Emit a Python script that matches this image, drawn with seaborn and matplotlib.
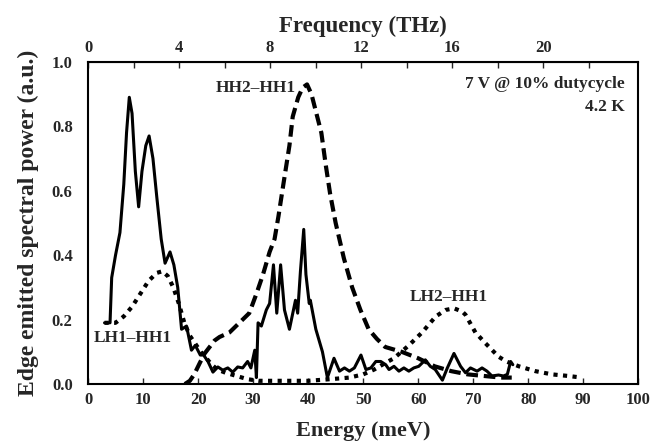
import numpy as np
import pandas as pd
import matplotlib
matplotlib.use("Agg")
import matplotlib.pyplot as plt
import seaborn as sns

# 实测谱（实线）
e_meas = [3.0, 4.0, 4.3, 5.0, 5.8, 6.5, 7.0, 7.5, 8.0, 8.6, 9.2, 9.8, 10.5, 11.1, 11.8,
          12.5, 13.3, 14.0, 14.9, 15.6, 16.3, 17.0, 17.9, 18.8, 19.5, 20.4, 21.0, 21.8,
          22.7, 23.6, 24.5, 25.4, 26.3, 27.2, 28.1, 29.0, 29.6, 30.3, 30.6, 30.9, 31.5,
          32.4, 33.0, 33.7, 34.3, 35.0, 35.7, 36.6, 37.7, 38.1, 38.6, 39.2, 39.6, 40.2,
          40.4, 41.4, 42.6, 43.5, 44.7, 45.7, 46.6, 47.5, 48.4, 49.6, 50.5, 51.4, 52.3,
          53.2, 54.1, 54.7, 55.6, 56.5, 57.4, 58.3, 59.2, 60.1, 61.3, 62.2, 63.1, 64.4,
          65.3, 66.5, 67.7, 68.6, 69.5, 70.7, 71.6, 72.5, 73.4, 74.6, 75.5, 76.2, 76.8, 77.2]
p_meas = [0.19, 0.19, 0.33, 0.40, 0.47, 0.62, 0.78, 0.89, 0.84, 0.66, 0.55, 0.66, 0.74, 0.77, 0.70,
          0.58, 0.45, 0.375, 0.41, 0.37, 0.30, 0.17, 0.18, 0.105, 0.12, 0.09, 0.09, 0.07,
          0.037, 0.053, 0.043, 0.05, 0.037, 0.053, 0.05, 0.07, 0.05, 0.105, 0.02, 0.19, 0.18,
          0.23, 0.25, 0.37, 0.22, 0.37, 0.23, 0.17, 0.26, 0.22, 0.35, 0.48, 0.34, 0.25,
          0.26, 0.17, 0.10, 0.02, 0.08, 0.04, 0.05, 0.04, 0.05, 0.09, 0.045, 0.05, 0.07,
          0.07, 0.06, 0.045, 0.055, 0.04, 0.05, 0.04, 0.05, 0.055, 0.075, 0.055, 0.045, 0.012,
          0.05, 0.095, 0.055, 0.035, 0.05, 0.04, 0.05, 0.04, 0.025, 0.028, 0.025, 0.03, 0.07, 0.06]

# HH2-HH1 计算（虚线）
e_hh = [17.6, 18.5, 19.3, 20.3, 21.2, 22.1, 23.0, 23.9, 25.7, 27.5, 29.3, 30.6, 31.8, 33.0,
        33.9, 34.6, 35.5, 36.6, 37.2, 38.2, 39.0, 39.8, 40.6, 41.5, 42.4, 43.2, 44.0, 45.0,
        46.5, 48.0, 49.5, 51.0, 52.5, 54.0, 57.0, 60.0, 63.0, 66.0, 69.0, 72.0, 75.0, 77.0]
p_hh = [0.0, 0.01, 0.03, 0.065, 0.095, 0.115, 0.135, 0.146, 0.16, 0.19, 0.22, 0.28, 0.34, 0.41,
        0.45, 0.52, 0.62, 0.74, 0.83, 0.89, 0.92, 0.93, 0.90, 0.84, 0.78, 0.68, 0.59, 0.50,
        0.39, 0.30, 0.23, 0.17, 0.14, 0.115, 0.10, 0.08, 0.055, 0.04, 0.03, 0.025, 0.02, 0.02]

# LH1-HH1 / LH2-HH1 计算（点线）
e_lh = [3.0, 5.0, 6.5, 8.0, 9.5, 11.0, 12.5, 13.5, 14.5, 15.5, 16.5, 17.5, 18.5, 19.5, 20.5,
        21.5, 22.5, 23.5, 25.0, 27.0, 29.0, 31.0, 35.0, 40.0, 44.0, 47.5, 50.0, 52.0, 54.0,
        55.6, 58.3, 60.7, 63.2, 65.0, 66.5, 68.0, 68.6, 70.4, 72.2, 74.6, 76.0, 78.3, 81.3,
        84.3, 87.3, 89.7]
p_lh = [0.19, 0.19, 0.21, 0.24, 0.28, 0.32, 0.345, 0.35, 0.335, 0.30, 0.25, 0.19, 0.15, 0.125, 0.10,
        0.08, 0.06, 0.045, 0.035, 0.025, 0.015, 0.01, 0.01, 0.01, 0.015, 0.02, 0.03, 0.045, 0.065,
        0.08, 0.12, 0.16, 0.21, 0.23, 0.235, 0.225, 0.215, 0.16, 0.127, 0.085, 0.07, 0.055, 0.04,
        0.03, 0.025, 0.02]

x_ticks = [0, 10, 20, 30, 40, 50, 60, 70, 80, 90, 100]
y_ticks = [0.0, 0.2, 0.4, 0.6, 0.8, 1.0]
thz_major = [0, 4, 8, 12, 16, 20]
thz_minor = [2, 6, 10, 14, 18, 22]

MEV_PER_THZ = 4.1357

df_meas = pd.DataFrame({"E": e_meas, "P": p_meas})
df_hh = pd.DataFrame({"E": e_hh, "P": p_hh})
df_lh = pd.DataFrame({"E": e_lh, "P": p_lh})

sns.set_style("ticks")
plt.rcParams["font.family"] = ["Liberation Serif", "DejaVu Serif"]
plt.rcParams["font.weight"] = "bold"
plt.rcParams["axes.labelweight"] = "bold"

fig = plt.figure(figsize=(6.52, 4.45), dpi=100)
ax = fig.add_axes([0.135, 0.137, 0.844, 0.724])

sns.lineplot(data=df_meas, x="E", y="P", ax=ax, color="black", lw=2.2, sort=False)
sns.lineplot(data=df_hh, x="E", y="P", ax=ax, color="black", lw=3.0, sort=False,
             linestyle=(0, (2.8, 1.4)))
sns.lineplot(data=df_lh, x="E", y="P", ax=ax, color="black", lw=3.0, sort=False,
             linestyle=(0, (1.0, 1.3)))

ax.set_xlim(0, 100)
ax.set_ylim(0, 1.0)
ax.set_xticks(x_ticks)
ax.set_yticks(y_ticks)
ax.set_yticklabels([f"{v:.1f}" for v in y_ticks])
ax.tick_params(axis="x", direction="in", length=4, width=1, labelsize=12, pad=6)
ax.tick_params(axis="y", direction="in", length=0, labelsize=12, pad=11)
for lab in ax.get_xticklabels() + ax.get_yticklabels():
    lab.set_fontweight("bold")
for s in ax.spines.values():
    s.set_linewidth(1.5)
    s.set_color("black")

ax.set_xlabel("Energy (meV)", fontsize=16, labelpad=9)
ax.set_ylabel("Edge emitted spectral power (a.u.)", fontsize=17, labelpad=9)

top = ax.secondary_xaxis("top", functions=(lambda e: e / MEV_PER_THZ, lambda f: f * MEV_PER_THZ))
top.set_xticks(thz_major)
top.set_xticks(thz_minor, minor=True)
top.tick_params(axis="x", which="both", direction="in", length=4, width=1, labelsize=12, pad=4)
for lab in top.get_xticklabels():
    lab.set_fontweight("bold")
top.set_xlabel("Frequency (THz)", fontsize=16.5, fontweight="bold", labelpad=6)

ax.text(37.7, 0.92, "HH2–HH1", ha="right", va="center", fontsize=12.5, fontweight="bold")
ax.text(1.1, 0.143, "LH1–HH1", ha="left", va="center", fontsize=12.5, fontweight="bold")
ax.text(65.6, 0.27, "LH2–HH1", ha="center", va="center", fontsize=12.5, fontweight="bold")
ax.text(97.5, 0.93, "7 V @ 10% dutycycle", ha="right", va="center", fontsize=12.5, fontweight="bold")
ax.text(97.5, 0.86, "4.2 K", ha="right", va="center", fontsize=12.5, fontweight="bold")

fig.savefig("out.png", dpi=100)
